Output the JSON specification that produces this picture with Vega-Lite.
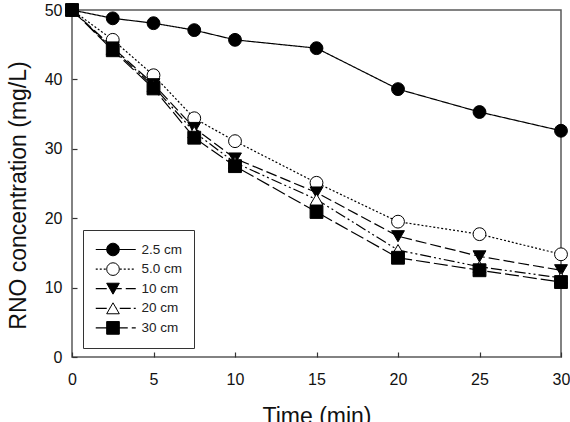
{
  "$schema": "https://vega.github.io/schema/vega-lite/v6.json",
  "width": 489,
  "height": 347,
  "autosize": {"type": "none"},
  "padding": {"left": 72, "top": 10, "right": 9, "bottom": 65},
  "background": "white",
  "config": {
    "font": "Liberation Sans",
    "view": {"stroke": "#5a5a5a", "strokeWidth": 1.5},
    "axis": {
      "domain": false,
      "grid": false,
      "ticks": true,
      "tickSize": -5,
      "tickColor": "#333",
      "tickWidth": 1.2,
      "labelFlush": false,
      "labelFont": "Liberation Sans",
      "labelFontSize": 16,
      "labelColor": "#111",
      "titleFont": "Liberation Sans",
      "titleFontSize": 23,
      "titleFontWeight": "normal",
      "titleColor": "#111"
    }
  },
  "data": {
    "values": [
      {"t": 0, "c": 50.0, "s": "2.5 cm"}, {"t": 2.5, "c": 48.8, "s": "2.5 cm"}, {"t": 5, "c": 48.1, "s": "2.5 cm"}, {"t": 7.5, "c": 47.1, "s": "2.5 cm"}, {"t": 10, "c": 45.7, "s": "2.5 cm"}, {"t": 15, "c": 44.5, "s": "2.5 cm"}, {"t": 20, "c": 38.6, "s": "2.5 cm"}, {"t": 25, "c": 35.3, "s": "2.5 cm"}, {"t": 30, "c": 32.6, "s": "2.5 cm"},
      {"t": 0, "c": 50.0, "s": "5.0 cm"}, {"t": 2.5, "c": 45.7, "s": "5.0 cm"}, {"t": 5, "c": 40.6, "s": "5.0 cm"}, {"t": 7.5, "c": 34.4, "s": "5.0 cm"}, {"t": 10, "c": 31.1, "s": "5.0 cm"}, {"t": 15, "c": 25.1, "s": "5.0 cm"}, {"t": 20, "c": 19.5, "s": "5.0 cm"}, {"t": 25, "c": 17.7, "s": "5.0 cm"}, {"t": 30, "c": 14.8, "s": "5.0 cm"},
      {"t": 0, "c": 50.0, "s": "10 cm"}, {"t": 2.5, "c": 44.6, "s": "10 cm"}, {"t": 5, "c": 39.3, "s": "10 cm"}, {"t": 7.5, "c": 33.0, "s": "10 cm"}, {"t": 10, "c": 28.6, "s": "10 cm"}, {"t": 15, "c": 23.7, "s": "10 cm"}, {"t": 20, "c": 17.4, "s": "10 cm"}, {"t": 25, "c": 14.5, "s": "10 cm"}, {"t": 30, "c": 12.5, "s": "10 cm"},
      {"t": 0, "c": 50.0, "s": "20 cm"}, {"t": 2.5, "c": 44.4, "s": "20 cm"}, {"t": 5, "c": 39.0, "s": "20 cm"}, {"t": 7.5, "c": 32.4, "s": "20 cm"}, {"t": 10, "c": 28.0, "s": "20 cm"}, {"t": 15, "c": 22.7, "s": "20 cm"}, {"t": 20, "c": 15.4, "s": "20 cm"}, {"t": 25, "c": 13.0, "s": "20 cm"}, {"t": 30, "c": 11.4, "s": "20 cm"},
      {"t": 0, "c": 50.0, "s": "30 cm"}, {"t": 2.5, "c": 44.2, "s": "30 cm"}, {"t": 5, "c": 38.7, "s": "30 cm"}, {"t": 7.5, "c": 31.6, "s": "30 cm"}, {"t": 10, "c": 27.5, "s": "30 cm"}, {"t": 15, "c": 20.9, "s": "30 cm"}, {"t": 20, "c": 14.3, "s": "30 cm"}, {"t": 25, "c": 12.5, "s": "30 cm"}, {"t": 30, "c": 10.8, "s": "30 cm"}
    ]
  },
  "encoding": {
    "x": {
      "field": "t", "type": "quantitative", "title": "Time (min)",
      "scale": {"domain": [0, 30], "nice": false},
      "axis": {"values": [0, 5, 10, 15, 20, 25, 30], "labelPadding": 19, "titlePadding": 18}
    },
    "y": {
      "field": "c", "type": "quantitative", "title": "RNO concentration (mg/L)",
      "scale": {"domain": [0, 50], "nice": false},
      "axis": {"values": [0, 10, 20, 30, 40, 50], "labelPadding": 15, "titlePadding": 14, "titleY": 185}
    }
  },
  "layer": [
    {
      "mark": {"type": "line", "color": "black", "strokeWidth": 1.2},
      "encoding": {
        "strokeDash": {
          "field": "s", "type": "nominal",
          "sort": ["2.5 cm", "5.0 cm", "10 cm", "20 cm", "30 cm"],
          "scale": {"range": [[1, 0], [2, 2], [11, 4], [11, 3, 2, 3, 2, 3], [14, 4]]},
          "legend": {
            "title": null,
            "orient": "none",
            "legendX": 11,
            "legendY": 220,
            "padding": 11,
            "strokeColor": "#333",
            "symbolType": "M-1,0H7",
            "symbolSize": 100,
            "symbolStrokeWidth": 1.2,
            "symbolStrokeColor": "black",
            "labelFont": "Liberation Sans",
            "labelFontSize": 13.5,
            "labelColor": "#222",
            "labelOffset": 34,
            "clipHeight": 17,
            "rowPadding": 2.6,
            "labelExpr": "datum.label + '   '"
          }
        }
      }
    },
    {
      "mark": {"type": "point", "filled": true, "strokeWidth": 1, "size": 165, "opacity": 1},
      "encoding": {
        "shape": {
          "field": "s", "type": "nominal",
          "scale": {
            "domain": ["2.5 cm", "5.0 cm", "10 cm", "20 cm", "30 cm"],
            "range": ["circle", "circle", "triangle-down", "triangle-up", "square"]
          },
          "legend": {
            "title": null,
            "orient": "none",
            "legendX": 23,
            "legendY": 220,
            "padding": 11,
            "symbolSize": 160,
            "symbolStrokeWidth": 1,
            "labelFontSize": 13.5,
            "labelExpr": "''",
            "labelOffset": 9,
            "clipHeight": 17,
            "rowPadding": 2.6
          }
        },
        "fill": {
          "field": "s", "type": "nominal",
          "scale": {
            "domain": ["2.5 cm", "5.0 cm", "10 cm", "20 cm", "30 cm"],
            "range": ["black", "white", "black", "white", "black"]
          },
          "legend": {
            "title": null,
            "orient": "none",
            "legendX": 23,
            "legendY": 220,
            "padding": 11,
            "symbolSize": 160,
            "symbolStrokeWidth": 1,
            "labelFontSize": 13.5,
            "labelExpr": "''",
            "labelOffset": 9,
            "clipHeight": 17,
            "rowPadding": 2.6
          }
        },
        "stroke": {
          "field": "s", "type": "nominal",
          "scale": {
            "domain": ["2.5 cm", "5.0 cm", "10 cm", "20 cm", "30 cm"],
            "range": ["black", "black", "black", "black", "black"]
          },
          "legend": {
            "title": null,
            "orient": "none",
            "legendX": 23,
            "legendY": 220,
            "padding": 11,
            "symbolSize": 160,
            "symbolStrokeWidth": 1,
            "labelFontSize": 13.5,
            "labelExpr": "''",
            "labelOffset": 9,
            "clipHeight": 17,
            "rowPadding": 2.6
          }
        }
      }
    }
  ]
}
